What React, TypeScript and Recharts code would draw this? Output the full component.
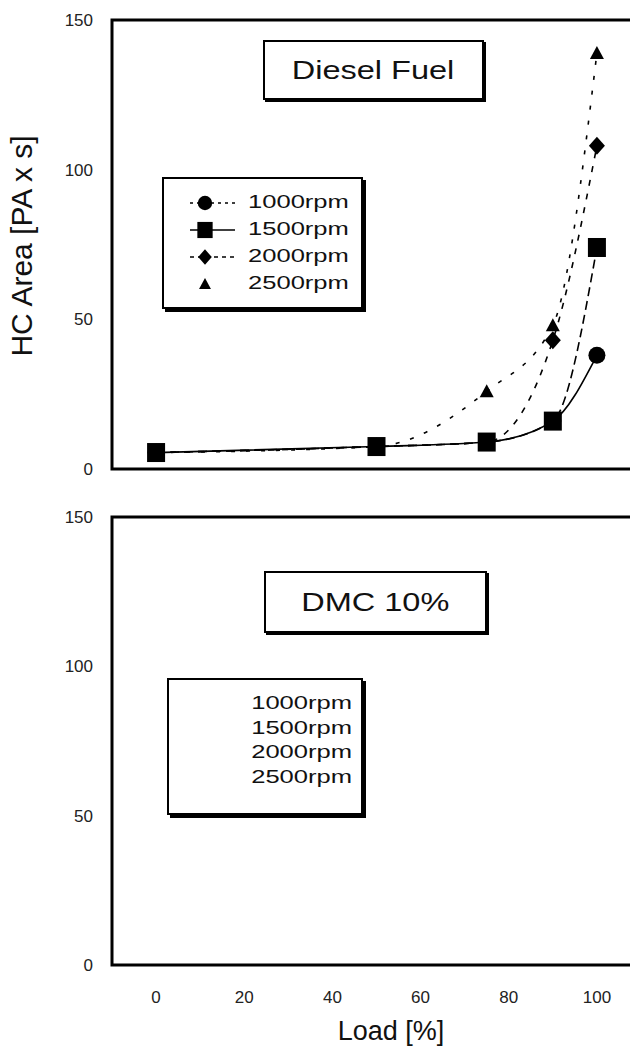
import { LineChart, Line, XAxis, YAxis, ReferenceArea, Legend } from "recharts"

const loads = [0, 50, 75, 90, 100]
const diesel1000 = [5.5, 7.5, 9, 16, 38]
const diesel1500 = [5.5, 7.5, 9, 16, 74]
const diesel2000 = [5.5, 7.5, 9, 43, 108]
const diesel2500 = [5.5, 7.5, 26, 48, 139]

// DMC 10% panel carries no plotted values in the figure
const dmc1000: number[] = []
const dmc1500: number[] = []
const dmc2000: number[] = []
const dmc2500: number[] = []

const rpmNames = ["1000rpm", "1500rpm", "2000rpm", "2500rpm"]
const xTicks = [0, 20, 40, 60, 80, 100]
const yTicks = [0, 50, 100, 150]

const FONT = '"Liberation Sans", Arial, sans-serif'

const series = [
  { key: "rpm1000", shape: "circle", dash: undefined, legendDash: "3 4", legendLine: true },
  { key: "rpm1500", shape: "square", dash: "9 5", legendDash: undefined, legendLine: true },
  { key: "rpm2000", shape: "diamond", dash: "6 8", legendDash: "4 4", legendLine: true },
  { key: "rpm2500", shape: "triangle", dash: "4 11", legendDash: undefined, legendLine: false },
]

const toRows = (a: number[], b: number[], c: number[], d: number[]) =>
  loads.map((load, i) => ({ load, rpm1000: a[i], rpm1500: b[i], rpm2000: c[i], rpm2500: d[i] }))

const dieselData = toRows(diesel1000, diesel1500, diesel2000, diesel2500)
const dmcData = toRows(dmc1000, dmc1500, dmc2000, dmc2500)

function Marker({ shape, cx, cy, s = 1 }: { shape: string; cx?: number; cy?: number; s?: number }) {
  if (typeof cx !== "number" || typeof cy !== "number" || isNaN(cy)) return <g />
  if (shape === "circle") return <circle cx={cx} cy={cy} r={8.5 * s} fill="#000" />
  if (shape === "square")
    return <rect x={cx - 9 * s} y={cy - 9.5 * s} width={18 * s} height={19 * s} fill="#000" />
  if (shape === "diamond")
    return (
      <path
        d={`M${cx},${cy - 9 * s} L${cx + 8 * s},${cy} L${cx},${cy + 9 * s} L${cx - 8 * s},${cy} Z`}
        fill="#000"
      />
    )
  return <path d={`M${cx},${cy - 7 * s} L${cx + 7 * s},${cy + 6 * s} L${cx - 7 * s},${cy + 6 * s} Z`} fill="#000" />
}

function DieselLegend() {
  return (
    <div
      style={{
        width: 201,
        height: 132,
        boxSizing: "border-box",
        border: "2px solid #000",
        boxShadow: "3px 3px 0 #000",
        background: "#fff",
        paddingTop: 10,
        fontFamily: FONT,
      }}
    >
      {series.map((s, i) => (
        <div key={s.key} style={{ display: "flex", alignItems: "center", height: 27 }}>
          <svg width={50} height={22} style={{ marginLeft: 24 }}>
            {s.legendLine && (
              <line x1={2} x2={47} y1={11} y2={11} stroke="#000" strokeWidth={1.5} strokeDasharray={s.legendDash} />
            )}
            <Marker shape={s.shape} cx={17} cy={11} s={0.85} />
          </svg>
          <span
            style={{
              display: "inline-block",
              fontSize: 18,
              color: "#111",
              marginLeft: 10,
              transform: "scaleX(1.42)",
              transformOrigin: "left center",
            }}
          >
            {rpmNames[i]}
          </span>
        </div>
      ))}
    </div>
  )
}

function DmcLegend() {
  return (
    <div
      style={{
        width: 196,
        height: 137,
        boxSizing: "border-box",
        border: "2px solid #000",
        boxShadow: "3px 3px 0 #000",
        background: "#fff",
        paddingTop: 11,
        paddingRight: 9,
        fontFamily: FONT,
      }}
    >
      {rpmNames.map((n) => (
        <div key={n} style={{ height: 24.7, lineHeight: "24.7px", textAlign: "right" }}>
          <span
            style={{
              display: "inline-block",
              fontSize: 18,
              color: "#111",
              transform: "scaleX(1.42)",
              transformOrigin: "right center",
            }}
          >
            {n}
          </span>
        </div>
      ))}
    </div>
  )
}

function TitleBox({ text, left, top, width, height }: { text: string; left: number; top: number; width: number; height: number }) {
  return (
    <div
      style={{
        position: "absolute",
        left,
        top,
        width,
        height,
        boxSizing: "border-box",
        border: "2px solid #000",
        boxShadow: "2px 2px 0 #000",
        background: "#fff",
        display: "flex",
        alignItems: "center",
        justifyContent: "center",
        fontFamily: FONT,
      }}
    >
      <span style={{ display: "inline-block", fontSize: 26, color: "#111", transform: "scaleX(1.25)" }}>{text}</span>
    </div>
  )
}

const tickStyle = { fontSize: 17, fill: "#222", fontFamily: FONT }

export default function App() {
  return (
    <div
      style={{
        position: "absolute",
        left: 0,
        top: 0,
        width: 630,
        height: 1053,
        overflow: "hidden",
        background: "#fff",
        fontFamily: FONT,
      }}
    >
      <div style={{ position: "absolute", left: 0, top: 0 }}>
        <LineChart width={660} height={480} data={dieselData} margin={{ top: 20, right: 19, bottom: 11, left: 0 }}>
          <XAxis dataKey="load" type="number" domain={[-10, 110]} allowDataOverflow hide />
          <YAxis
            type="number"
            domain={[0, 150]}
            allowDataOverflow
            ticks={yTicks}
            width={112}
            axisLine={false}
            tickLine={false}
            tickMargin={13}
            tick={tickStyle}
            label={{
              content: () => (
                <text
                  x={32}
                  y={246}
                  transform="rotate(-90 32 246)"
                  textAnchor="middle"
                  fontSize={30}
                  fill="#111"
                  fontFamily={FONT}
                >
                  HC Area [PA x s]
                </text>
              ),
            }}
          />
          <ReferenceArea x1={-10} x2={110} y1={0} y2={150} fill="none" stroke="#000" strokeWidth={3} />
          {series.map((s) => (
            <Line
              key={s.key}
              dataKey={s.key}
              type="monotone"
              stroke="#000"
              strokeWidth={1.6}
              strokeDasharray={s.dash}
              isAnimationActive={false}
              dot={(p: any) => <Marker key={`${s.key}-${p.index}`} shape={s.shape} cx={p.cx} cy={p.cy} />}
              activeDot={false}
            />
          ))}
          <Legend
            layout="vertical"
            align="center"
            verticalAlign="middle"
            wrapperStyle={{ left: 162, top: 177 }}
            content={() => <DieselLegend />}
          />
        </LineChart>
        <TitleBox text="Diesel Fuel" left={263} top={40} width={221} height={60} />
      </div>

      <div style={{ position: "absolute", left: 0, top: 497 }}>
        <LineChart width={660} height={556} data={dmcData} margin={{ top: 20, right: 19, bottom: 0, left: 0 }}>
          <XAxis
            dataKey="load"
            type="number"
            domain={[-10, 110]}
            allowDataOverflow
            ticks={xTicks}
            height={88}
            axisLine={false}
            tickLine={false}
            tickMargin={20}
            tick={tickStyle}
            label={{
              content: (p: any) => (
                <text x={391} y={(p?.viewBox?.y ?? 468) + 75} textAnchor="middle" fontSize={27} fill="#111" fontFamily={FONT}>
                  Load [%]
                </text>
              ),
            }}
          />
          <YAxis
            type="number"
            domain={[0, 150]}
            allowDataOverflow
            ticks={yTicks}
            width={112}
            axisLine={false}
            tickLine={false}
            tickMargin={13}
            tick={tickStyle}
          />
          <ReferenceArea x1={-10} x2={110} y1={0} y2={150} fill="none" stroke="#000" strokeWidth={3} />
          {series.map((s) => (
            <Line
              key={s.key}
              dataKey={s.key}
              type="monotone"
              stroke="#000"
              strokeWidth={1.6}
              strokeDasharray={s.dash}
              isAnimationActive={false}
              dot={(p: any) => <Marker key={`${s.key}-${p.index}`} shape={s.shape} cx={p.cx} cy={p.cy} />}
              activeDot={false}
            />
          ))}
          <Legend
            layout="vertical"
            align="center"
            verticalAlign="middle"
            wrapperStyle={{ left: 167, top: 181 }}
            content={() => <DmcLegend />}
          />
        </LineChart>
        <TitleBox text="DMC 10%" left={264} top={74} width={223} height={62} />
      </div>
    </div>
  )
}
